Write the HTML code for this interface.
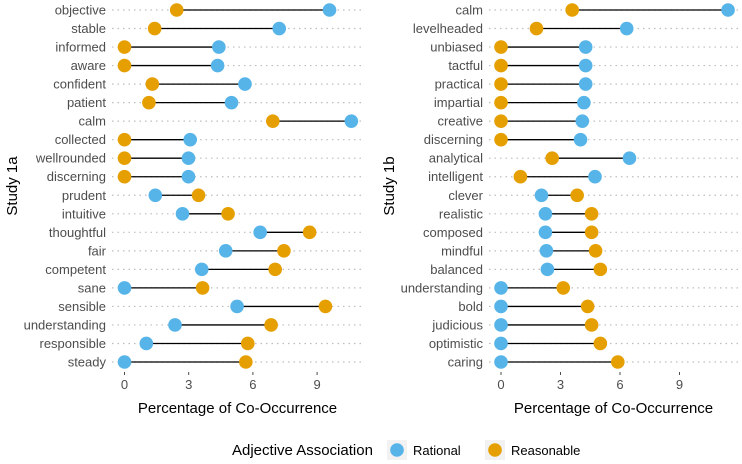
<!DOCTYPE html>
<html><head><meta charset="utf-8"><style>
body{margin:0;background:#fff;font-family:"Liberation Sans",Arial,sans-serif}
svg{display:block}
</style></head><body>
<svg id="chart" width="742" height="464"></svg>
<script>
const catsA=["objective","stable","informed","aware","confident","patient","calm","collected","wellrounded","discerning","prudent","intuitive","thoughtful","fair","competent","sane","sensible","understanding","responsible","steady"];
const ratA=[9.58,7.23,4.41,4.35,5.63,5.0,10.6,3.07,2.99,2.99,1.44,2.71,6.34,4.73,3.61,0,5.26,2.36,1.02,0];
const reaA=[2.44,1.41,0,0,1.30,1.14,6.93,0,0,0,3.46,4.84,8.65,7.45,7.04,3.65,9.39,6.85,5.76,5.67];
const catsB=["calm","levelheaded","unbiased","tactful","practical","impartial","creative","discerning","analytical","intelligent","clever","realistic","composed","mindful","balanced","understanding","bold","judicious","optimistic","caring"];
const ratB=[11.45,6.34,4.27,4.27,4.27,4.18,4.10,4.01,6.48,4.74,2.04,2.24,2.24,2.29,2.34,0,0,0,0,0];
const reaB=[3.59,1.79,0,0,0,0,0,0,2.58,0.98,3.84,4.57,4.57,4.77,5.01,3.14,4.37,4.57,5.01,5.89];
const ticks=[0,3,6,9];
const NS="http://www.w3.org/2000/svg";
const svg=document.getElementById('chart');
function el(t,a,p){const e=document.createElementNS(NS,t);for(const k in a)e.setAttribute(k,a[k]);(p||svg).appendChild(e);return e;}
const BLUE="#56B4E9",ORANGE="#E69F00";
function panel(cats,rat,rea,x0,scale,gx0,gx1,title,titleY,id){
  const g=el('g',{});
  
  
  const y=i=>10+i*(352/19);
  const x=v=>x0+v*scale;
  cats.forEach((c,i)=>{
    const gl=el('line',{x1:gx0,x2:gx1,y1:y(i),y2:y(i),stroke:"#bdbdbd","stroke-width":1.2,"stroke-dasharray":"1.5,4"},g);
    
    
    const t=el('text',{x:gx0-6,y:y(i)+4.5,"text-anchor":"end","font-size":13,fill:"#4d4d4d"},g);
    t.textContent=c;
    
    
    const l=el('line',{x1:x(rat[i]),x2:x(rea[i]),y1:y(i),y2:y(i),stroke:"#000","stroke-width":1.3},g);
    
    
    const a=el('circle',{cx:x(rat[i]),cy:y(i),r:6.8,fill:BLUE},g);
    
    
    const b=el('circle',{cx:x(rea[i]),cy:y(i),r:6.8,fill:ORANGE},g);
    
    
  });
  ticks.forEach(v=>{
    const tk=el('line',{x1:x(v),x2:x(v),y1:372,y2:375,stroke:"#4d4d4d","stroke-width":1},g);
    
    
    const t=el('text',{x:x(v),y:389,"text-anchor":"middle","font-size":13,fill:"#4d4d4d"},g);
    t.textContent=v;
    
    
  });
  const xt=el('text',{x:(gx0+gx1)/2,y:413,"text-anchor":"middle","font-size":15,fill:"#000"},g);
  xt.textContent="Percentage of Co-Occurrence";
  
  
  const yt=el('text',{x:0,y:0,"text-anchor":"middle","font-size":15,fill:"#000",transform:`translate(${titleY},186) rotate(-90)`},g);
  yt.textContent=title;
  
  
}
panel(catsA,ratA,reaA,124.5,21.4,112,363,"Study 1a",17,'panel-study-1a');
panel(catsB,ratB,reaB,501,19.83,489,738,"Study 1b",394,'panel-study-1b');
const lg=el('g',{});


const lt=el('text',{x:232,y:455,"font-size":15,fill:"#000"},lg);
lt.textContent="Adjective Association";


[[397,BLUE,"Rational"],[495,ORANGE,"Reasonable"]].forEach(([cx,c,n])=>{
  const k=el('rect',{x:cx-10,y:440,width:20,height:20,fill:"#f2f2f2"},lg);
  
  
  const ci=el('circle',{cx:cx,cy:450,r:6.8,fill:c},lg);
  
  
  const t=el('text',{x:cx+16,y:455,"font-size":13,fill:"#000"},lg);
  t.textContent=n;
  
  
});
</script>
</body></html>
